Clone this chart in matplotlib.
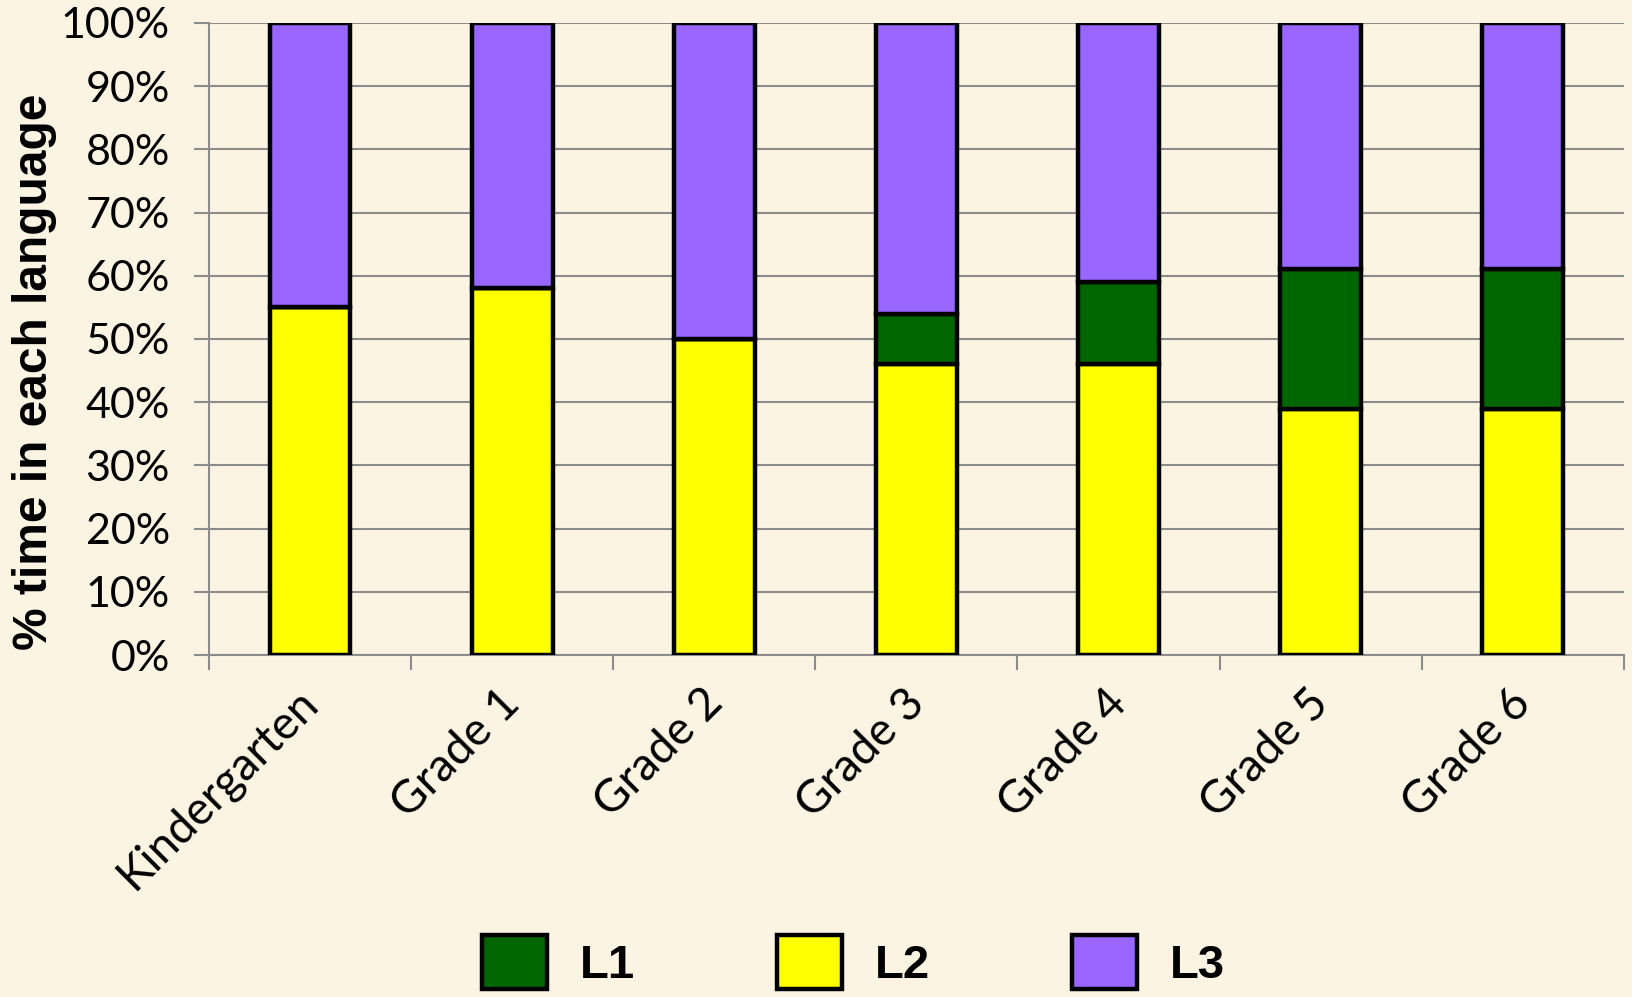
"""stacked share of classroom time per language, by grade"""
import numpy as np
import matplotlib.pyplot as plt
import matplotlib.transforms as mtransforms
from matplotlib.patches import Patch

plt.rcParams["font.family"] = ["Lato", "DejaVu Sans"]

grades = ["Kindergarten", "Grade 1", "Grade 2", "Grade 3", "Grade 4", "Grade 5", "Grade 6"]
l2 = [55, 58, 50, 46, 46, 39, 39]
l1 = [0, 0, 0, 8, 13, 22, 22]
l3 = [45, 42, 50, 46, 41, 39, 39]

col_l1 = "#006600"
col_l2 = "#FFFF00"
col_l3 = "#9966FF"
bg = "#FBF4E2"
grid_col = "#8C8C8C"

fig = plt.figure(figsize=(16.32, 9.97), dpi=100, facecolor=bg)
ax = fig.add_axes([0.128, 0.343, 0.867, 0.634])
ax.set_facecolor(bg)

x = np.arange(len(grades))
l2 = np.array(l2)
l1 = np.array(l1)
l3 = np.array(l3)
kw = dict(width=0.4, edgecolor="black", linewidth=3.2, zorder=3)
ax.bar(x, l2, color=col_l2, **kw)
ax.bar(x, l1, bottom=l2, color=col_l1, **kw)
ax.bar(x, l3, bottom=l2 + l1, color=col_l3, **kw)

ax.set_xlim(-0.5, len(grades) - 0.5)
ax.set_ylim(0, 100)
ax.set_yticks(range(0, 101, 10))
ax.set_yticklabels([f"{v}%" for v in range(0, 101, 10)], fontsize=31)
ax.yaxis.grid(True, color=grid_col, linewidth=1.5, zorder=0)
ax.set_axisbelow(True)
ax.tick_params(axis="y", length=11, width=1.5, color=grid_col, pad=17)

ax.set_xticks(x)
ax.set_xticklabels(grades, fontsize=33, rotation=45, ha="right", va="top")
ax.tick_params(axis="x", which="major", length=0, pad=19)
shift = mtransforms.ScaledTranslation(16 / 100, 0, fig.dpi_scale_trans)
for lab in ax.get_xticklabels():
    lab.set_transform(lab.get_transform() + shift)
ax.set_xticks(np.arange(len(grades) + 1) - 0.5, minor=True)
ax.tick_params(axis="x", which="minor", length=11, width=1.5, color=grid_col)

for side in ["top", "right"]:
    ax.spines[side].set_visible(False)
for side in ["left", "bottom"]:
    ax.spines[side].set_color(grid_col)
    ax.spines[side].set_linewidth(1.5)

fig.text(0.021, 0.627, "% time in each language", rotation=90, ha="center", va="center",
         fontsize=34.5, fontweight="bold", family=["Liberation Sans", "DejaVu Sans"])

handles = [Patch(facecolor=c, edgecolor="black", linewidth=3.2) for c in (col_l1, col_l2, col_l3)]
leg = fig.legend(handles, ["L1", "L2", "L3"], ncol=3, loc="center",
                 bbox_to_anchor=(0.523, 0.035), frameon=False,
                 prop=dict(family=["Liberation Sans", "DejaVu Sans"], weight="bold", size=34),
                 handlelength=1.38, handleheight=1.38, handletextpad=0.7, columnspacing=3.0)

plt.savefig("out.png", dpi=100, facecolor=bg)
plt.close()
